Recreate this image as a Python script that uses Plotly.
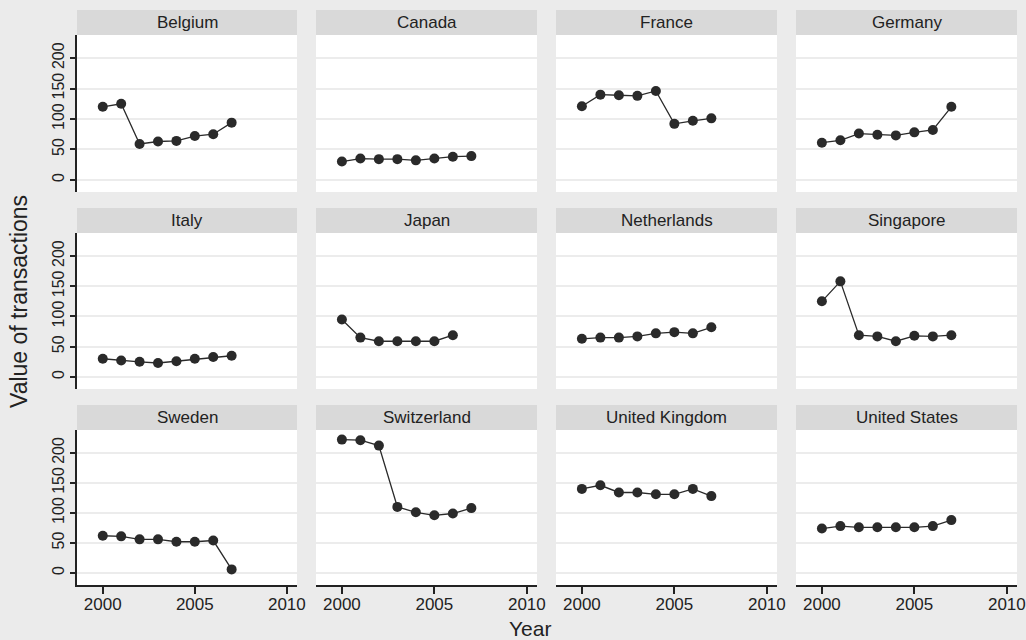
import plotly.graph_objects as go

years = [2000, 2001, 2002, 2003, 2004, 2005, 2006, 2007]
countries = ["Belgium", "Canada", "France", "Germany",
             "Italy", "Japan", "Netherlands", "Singapore",
             "Sweden", "Switzerland", "United Kingdom", "United States"]

belgium = [120, 125, 59, 63, 64, 72, 75, 94]
canada = [30, 35, 34, 34, 32, 35, 38, 39]
france = [121, 140, 139, 138, 146, 92, 97, 101]
germany = [61, 65, 76, 74, 73, 78, 82, 120]
italy = [30, 27, 25, 23, 26, 30, 33, 35]
japan = [95, 65, 59, 59, 59, 59, 69]
netherlands = [63, 65, 65, 67, 72, 74, 72, 82]
singapore = [125, 158, 69, 67, 59, 68, 67, 69]
sweden = [62, 61, 56, 56, 52, 52, 54, 6]
switzerland = [222, 221, 212, 110, 101, 96, 99, 108]
united_kingdom = [140, 146, 134, 134, 131, 131, 140, 128]
united_states = [74, 78, 76, 76, 76, 76, 78, 88]

series = [belgium, canada, france, germany, italy, japan, netherlands,
          singapore, sweden, switzerland, united_kingdom, united_states]

y_ticks = [0, 50, 100, 150, 200]
x_ticks = [2000, 2005, 2010]

W, H = 1026, 640
col_px = [(77, 297), (316, 537), (556, 777), (796, 1017)]
row_px = [(35, 192), (233, 389), (430, 585)]
strip_h = 25

fig = go.Figure()
layout = dict(
    width=W, height=H, margin=dict(l=0, r=0, t=0, b=0, autoexpand=False),
    paper_bgcolor="#ebebeb", plot_bgcolor="white", showlegend=False,
    font=dict(family="Liberation Sans, Arial, sans-serif", color="#222"),
)
shapes, annotations = [], []

for i, (name, vals) in enumerate(zip(countries, series)):
    r, c = divmod(i, 4)
    k = "" if i == 0 else str(i + 1)
    x0, x1 = col_px[c]
    y0, y1 = row_px[r]
    xd = [x0 / W, x1 / W]
    yd = [1 - y1 / H, 1 - y0 / H]
    fig.add_trace(go.Scatter(
        x=years[:len(vals)], y=vals, xaxis="x" + k, yaxis="y" + k,
        mode="lines+markers",
        line=dict(color="#2a2a2a", width=1.3),
        marker=dict(symbol="circle", size=10, color="#2a2a2a"),
        hoverinfo="skip"))
    bottom = r == 2
    left = c == 0
    layout["xaxis" + k] = dict(
        domain=xd, anchor="y" + k, range=[1998.6, 2010.55], automargin=False,
        tickvals=x_ticks, showticklabels=bottom,
        ticks="outside" if bottom else "", ticklen=7, tickwidth=1.5,
        ticklabelstandoff=-4,
        tickcolor="#222", showline=bottom, linecolor="#222", linewidth=1.5,
        showgrid=False, zeroline=False,
        tickfont=dict(size=17, color="#222"))
    layout["yaxis" + k] = dict(
        domain=yd, anchor="x" + k, range=[-20, 238], automargin=False,
        tickvals=y_ticks, showticklabels=left, tickangle=-90,
        ticks="outside" if left else "", ticklen=5, tickwidth=1.5,
        tickcolor="#222", showline=left, linecolor="#222", linewidth=1.5,
        showgrid=True, gridcolor="#ececec", gridwidth=1.5, zeroline=False,
        tickfont=dict(size=16, color="#222"))
    shapes.append(dict(type="rect", xref="paper", yref="paper",
                       x0=xd[0], x1=xd[1], y0=yd[1], y1=yd[1] + strip_h / H,
                       fillcolor="#d9d9d9", line=dict(width=0), layer="below"))
    annotations.append(dict(text=name, xref="paper", yref="paper",
                            x=(xd[0] + xd[1]) / 2, y=yd[1] + strip_h / 2 / H,
                            xanchor="center", yanchor="middle", showarrow=False,
                            font=dict(size=17, color="#222")))

annotations.append(dict(text="Value of transactions", xref="paper", yref="paper",
                        x=19 / W, y=1 - 302 / H, textangle=-90, showarrow=False,
                        xanchor="center", yanchor="middle",
                        font=dict(size=23, color="#222")))
annotations.append(dict(text="Year", xref="paper", yref="paper",
                        x=530 / W, y=1 - 628 / H, showarrow=False,
                        xanchor="center", yanchor="middle",
                        font=dict(size=21, color="#222")))
layout["shapes"] = shapes
layout["annotations"] = annotations
fig.update_layout(**layout)
fig.write_html("out.html", config={"displayModeBar": False},
               post_script="document.body.style.margin='0';"
                           "document.body.style.overflow='hidden';")
